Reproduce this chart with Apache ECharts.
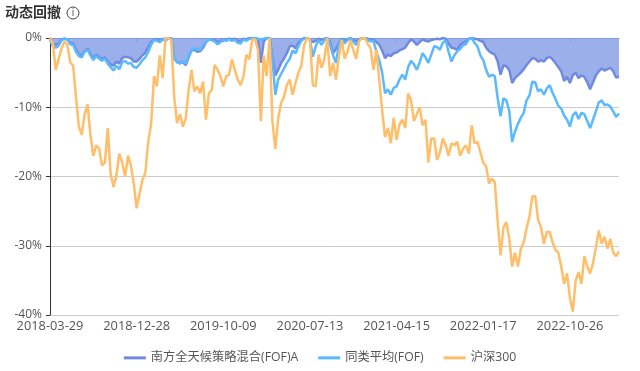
<!DOCTYPE html>
<html>
<head>
<meta charset="utf-8">
<style>
  html, body { margin: 0; padding: 0; background: #fff; }
  #chart { width: 640px; height: 371px; }
</style>
</head>
<body>
<div id="chart"></div>
<script src="https://cdn.jsdelivr.net/npm/echarts@6/dist/echarts.min.js"></script>
<script>
var tickDates = ['2018-03-29', '2018-12-28', '2019-10-09', '2020-07-13', '2021-04-15', '2022-01-17', '2022-10-26'];
var seriesNames = ['南方全天候策略混合(FOF)A', '同类平均(FOF)', '沪深300'];
var fund = [
  -0.1, -0.8, -1, -0.8, -0.2, -0.1, -0.2, -0.7, -0.8, -1.6, -2.4, -2.5, -1.9, -1.5, -2.3, -3, -2.4, -2.8, -3, -2.8,
  -3.4, -3.8, -4, -3.4, -3.7, -2.9, -2.7, -2.8, -2.9, -3.4, -3.4, -3, -2.5, -2.1, -1.3, -0.6, -0.2, -0.2, -0.4, -0.1,
  -0.2, 0, 0, -3, -3.5, -3.6, -3.5, -3.9, -2.8, -1.8, -1.7, -2, -1.9, -1.4, -0.6, -0.2, -0.2, -0.3, -0.6, -0.4,
  -0.2, -0.3, -0.1, -0.2, -0.1, -0.4, -0.5, -0.1, -0.2, 0, 0, 0, -0.2, -3.6, -0.5, 0, 0, -2.5, -5.4, -4.6,
  -3.6, -3, -2.2, -1.2, -1.1, -1.5, -0.7, -0.3, 0, 0, -0.2, -0.6, -0.4, -0.1, -0.3, -0.1, 0, -0.6, -2.2, -1.6,
  -0.8, -0.1, -0.4, -0.2, 0, -0.3, -0.5, -0.2, 0, 0, -0.1, -0.2, -0.2, -0.6, -1, -1.8, -2.9, -2.4, -2.6, -2.2,
  -2.1, -1.8, -1.6, -1.4, -0.7, -0.2, -0.5, -1, -0.6, -0.2, -0.4, -0.5, -0.3, -0.2, -0.1, -0.2, 0, -0.1, -0.8, -1.4,
  -1.5, -1.7, -1, -0.7, -0.5, -0.1, 0, -0.1, -0.2, -0.4, -0.6, -1.4, -1.9, -2.2, -2.4, -3.4, -5.3, -3.9, -4.1, -4.6,
  -6.5, -5.8, -5.4, -5, -4.5, -3.9, -3.4, -2.9, -3, -3.4, -3.2, -3.4, -2.9, -2.7, -3.1, -3.6, -4.2, -4.8, -6.2, -5.6,
  -6.5, -5.4, -5, -5.8, -5.4, -5.6, -6.4, -7.4, -6.4, -5.4, -4.8, -4.4, -4.7, -4.5, -4.3, -4.8, -5.7, -5.6
];
var peers = [
  -0.3, -1.2, -1.4, -1.1, -0.3, -0.1, -0.2, -0.9, -1, -2, -2.6, -2.8, -2, -1.7, -2.5, -3.2, -2.6, -3, -3.3, -3,
  -3.7, -4.2, -4.7, -4, -4.5, -3.5, -3.3, -3.7, -3.6, -4.2, -4.3, -3.8, -3.2, -2.8, -2, -1, -0.3, -0.4, -0.6, -0.2,
  -0.4, 0, -0.1, -3.1, -3.4, -3.7, -3.3, -3.7, -2.4, -1.9, -1.4, -1.7, -1.7, -1, -0.6, -0.2, -0.3, -0.5, -0.9, -0.6,
  -0.3, -0.4, -0.2, -0.4, -0.3, -0.7, -0.8, -0.2, -0.4, -0.1, -0.1, 0, -0.1, -0.3, -0.1, 0, 0, -3, -8.2, -6,
  -5.2, -4.4, -3.6, -3, -1.8, -2.2, -1.2, -0.4, -0.1, 0, -0.2, -2.7, -1.2, -0.3, -1, -0.3, 0, -1, -2.5, -3.6,
  -1, -0.2, -0.8, -0.3, 0, -0.5, -1, -0.3, 0, -0.1, -0.3, -0.5, -0.4, -2, -3.2, -5, -8, -7.4, -8.2, -7.2,
  -7, -6, -5.3, -6, -4.2, -3.3, -3.8, -4.6, -3.5, -2.2, -2.8, -3.6, -2.4, -1.2, -1.3, -1.7, -0.7, -0.3, -2, -3.4,
  -2.5, -1.9, -1.6, -1, -0.9, -0.2, 0, -0.7, -1.2, -2.5, -3.2, -4.6, -5.6, -5.3, -5.5, -8.7, -11.3, -8.7, -9, -10.5,
  -15, -13.5, -12.4, -11.5, -10.8, -9, -8.3, -6.3, -6.4, -7.7, -7.4, -8.2, -7.3, -6.8, -7.9, -8.8, -9.8, -10.2, -11.2, -11.8,
  -12.8, -11.2, -10.7, -11.7, -10.8, -11, -12, -13, -11.8, -10.6, -9.3, -9, -9.7, -9.6, -9.9, -10.6, -11.4, -10.9
];
var csi300 = [
  0, -0.8, -4.6, -3, -1.5, -0.5, -1, -3.5, -4, -8.5, -12.8, -14, -11, -9.6, -14, -17, -15.5, -16, -18.4, -18,
  -13, -19.6, -21.5, -19.8, -16.7, -18, -20, -17, -18.4, -21, -24.6, -22.5, -20.5, -19.5, -15, -12.5, -5.5, -7, -2.5, -5.8,
  0, 0, -0.3, -8.5, -12.3, -11, -12.8, -11.6, -7.5, -4.6, -7.7, -7, -8, -6.3, -11.8, -8, -7.5, -3.9, -4.6, -5.5,
  -7, -5.5, -5.3, -3.1, -4.6, -6, -6.8, -5.5, -2.4, -3.1, -0.2, -0.2, -1.7, -12, -2.5, -5.5, 0, -12, -16, -11.6,
  -9.4, -8.5, -6.8, -6, -8.2, -6.5, -5, -4, -1, 0, -0.3, -6.8, -7, -2.4, -4.3, -3, 0, -5.5, -3.6, -6,
  -2.8, -0.3, -3, -2, -0.3, -1.7, -3, -0.5, 0, 0, -0.8, -1.5, -4.6, -1.7, -6, -10.5, -14.3, -13, -15.2, -11.5,
  -14.7, -12.5, -11.8, -13, -8, -9, -12, -11, -10, -12.6, -11.8, -18, -14.5, -14.5, -17.6, -16.5, -14.5, -15.5, -17, -15.2,
  -15.5, -15, -17, -16, -15.5, -16.7, -12.6, -15.2, -15, -16.5, -18, -18.5, -21, -20.3, -20.8, -26.5, -31.4, -27.3, -26.6, -29,
  -33, -31, -33, -30.5, -29.5, -27.5, -25.8, -22.9, -22.8, -26.3, -27.3, -29.7, -28, -28, -29.5, -30.6, -31, -33, -35.5, -34,
  -37.5, -39.5, -35, -33.8, -35.5, -31.5, -33, -34, -32.5, -30.3, -27.8, -29.7, -28.7, -30.4, -29, -31, -31.5, -30.8
];

// 每 30 个点一个刻度，刻度之间的日期只用于类目轴
var labelStep = 30;
function buildDates() {
  var out = [];
  for (var i = 0; i < fund.length; i++) {
    var k = Math.min(Math.floor(i / labelStep), tickDates.length - 2);
    var a = Date.parse(tickDates[k]);
    var b = Date.parse(tickDates[k + 1]);
    var t = a + (b - a) * (i - k * labelStep) / labelStep;
    out.push(new Date(t).toISOString().slice(0, 10));
  }
  return out;
}

var dates = buildDates();
var fontFamily = '"Open Sans", "Noto Sans CJK SC", sans-serif';
var chart = echarts.init(document.getElementById('chart'), null, { renderer: 'canvas' });

var option = {
  animation: false,
  color: ['#6f8ae0', '#5ab9ff', '#ffbe69'],
  textStyle: { fontFamily: fontFamily },
  title: {
    text: '动态回撤',
    left: 5,
    top: 5,
    padding: 0,
    textStyle: { fontSize: 14, fontWeight: 'bold', color: '#333', fontFamily: '"Noto Sans CJK SC", sans-serif' }
  },
  graphic: [
    { type: 'circle', shape: { cx: 73, cy: 13, r: 6 }, style: { fill: '#fff', stroke: '#444', lineWidth: 1 } },
    { type: 'text', x: 73, y: 13, style: { text: 'i', fill: '#444', fontSize: 10, fontFamily: fontFamily, align: 'center', verticalAlign: 'middle' } }
  ],
  legend: {
    bottom: 2,
    left: 'center',
    itemWidth: 22,
    itemHeight: 3,
    itemGap: 20,
    icon: 'rect',
    textStyle: { fontSize: 12.25, color: '#555', fontFamily: fontFamily },
    data: seriesNames
  },
  grid: { left: 50, right: 21, top: 38, bottom: 56, outerBoundsMode: 'none' },
  xAxis: [
    {
      // 底部只放日期
      type: 'category',
      position: 'bottom',
      boundaryGap: false,
      data: dates,
      axisLine: { show: false, onZero: false },
      axisTick: { show: false },
      axisLabel: { interval: labelStep - 1, margin: 5, fontSize: 12.8, color: '#555' }
    },
    {
      // 顶部 0% 处的轴线和刻度
      type: 'category',
      position: 'top',
      boundaryGap: false,
      data: dates,
      axisLine: { show: true, onZero: false, lineStyle: { color: '#5b6fb5', width: 1 } },
      axisTick: { show: true, inside: true, interval: labelStep - 1, length: 4, lineStyle: { color: '#5b6fb5' } },
      axisLabel: { show: false }
    }
  ],
  yAxis: {
    type: 'value',
    min: -40,
    max: 0,
    interval: 10,
    axisLine: { show: true, lineStyle: { color: '#333' } },
    axisTick: { show: true, length: 4, lineStyle: { color: '#333' } },
    axisLabel: { formatter: '{value}%', fontSize: 12, color: '#555', margin: 8 },
    splitLine: { lineStyle: { color: '#ccc' } }
  },
  series: [
    { name: seriesNames[0], type: 'line', data: fund, symbol: 'none', lineStyle: { width: 2.5 }, areaStyle: { color: '#8aa2e6', opacity: 0.85 } },
    { name: seriesNames[1], type: 'line', data: peers, symbol: 'none', lineStyle: { width: 2.5 } },
    { name: seriesNames[2], type: 'line', data: csi300, symbol: 'none', lineStyle: { width: 2.5 } }
  ]
};

chart.setOption(option);
</script>
</body>
</html>
